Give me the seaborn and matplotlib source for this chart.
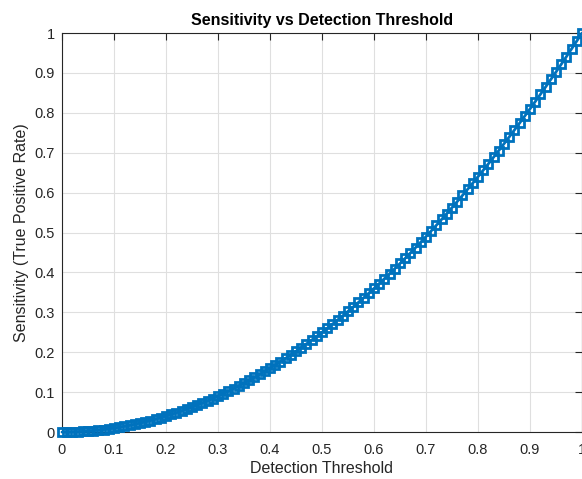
import matplotlib
matplotlib.use("Agg")
import matplotlib.pyplot as plt
import seaborn as sns
import pandas as pd
from matplotlib.ticker import FormatStrFormatter, MultipleLocator

# Detection threshold sweep (0.01 spacing)
thresholds = [
    0.00, 0.01, 0.02, 0.03, 0.04, 0.05, 0.06, 0.07, 0.08, 0.09,
    0.10, 0.11, 0.12, 0.13, 0.14, 0.15, 0.16, 0.17, 0.18, 0.19,
    0.20, 0.21, 0.22, 0.23, 0.24, 0.25, 0.26, 0.27, 0.28, 0.29,
    0.30, 0.31, 0.32, 0.33, 0.34, 0.35, 0.36, 0.37, 0.38, 0.39,
    0.40, 0.41, 0.42, 0.43, 0.44, 0.45, 0.46, 0.47, 0.48, 0.49,
    0.50, 0.51, 0.52, 0.53, 0.54, 0.55, 0.56, 0.57, 0.58, 0.59,
    0.60, 0.61, 0.62, 0.63, 0.64, 0.65, 0.66, 0.67, 0.68, 0.69,
    0.70, 0.71, 0.72, 0.73, 0.74, 0.75, 0.76, 0.77, 0.78, 0.79,
    0.80, 0.81, 0.82, 0.83, 0.84, 0.85, 0.86, 0.87, 0.88, 0.89,
    0.90, 0.91, 0.92, 0.93, 0.94, 0.95, 0.96, 0.97, 0.98, 0.99,
    1.00,
]
sensitivity = [
    0.0000, 0.0001, 0.0004, 0.0009, 0.0016, 0.0025, 0.0036, 0.0049, 0.0064, 0.0081,
    0.0100, 0.0121, 0.0144, 0.0169, 0.0196, 0.0225, 0.0256, 0.0289, 0.0324, 0.0361,
    0.0400, 0.0441, 0.0484, 0.0529, 0.0576, 0.0625, 0.0676, 0.0729, 0.0784, 0.0841,
    0.0900, 0.0961, 0.1024, 0.1089, 0.1156, 0.1225, 0.1296, 0.1369, 0.1444, 0.1521,
    0.1600, 0.1681, 0.1764, 0.1849, 0.1936, 0.2025, 0.2116, 0.2209, 0.2304, 0.2401,
    0.2500, 0.2601, 0.2704, 0.2809, 0.2916, 0.3025, 0.3136, 0.3249, 0.3364, 0.3481,
    0.3600, 0.3721, 0.3844, 0.3969, 0.4096, 0.4225, 0.4356, 0.4489, 0.4624, 0.4761,
    0.4900, 0.5041, 0.5184, 0.5329, 0.5476, 0.5625, 0.5776, 0.5929, 0.6084, 0.6241,
    0.6400, 0.6561, 0.6724, 0.6889, 0.7056, 0.7225, 0.7396, 0.7569, 0.7744, 0.7921,
    0.8100, 0.8281, 0.8464, 0.8649, 0.8836, 0.9025, 0.9216, 0.9409, 0.9604, 0.9801,
    1.0000,
]

df = pd.DataFrame({"threshold": thresholds, "sensitivity": sensitivity})

sns.set_style("whitegrid")
plt.rcParams["font.family"] = ["Liberation Sans", "DejaVu Sans"]

fig = plt.figure(figsize=(5.82, 4.79), dpi=100)
ax = fig.add_axes([0.1065, 0.098, 0.8935, 0.833])

sns.lineplot(data=df, x="threshold", y="sensitivity", ax=ax,
             color="#0072BD", linewidth=2, marker="s", markersize=5.2,
             markerfacecolor="none", markeredgecolor="#0072BD",
             markeredgewidth=2, clip_on=False, zorder=3)

ax.set_xlim(0, 1)
ax.set_ylim(0, 1)
ax.xaxis.set_major_locator(MultipleLocator(0.1))
ax.yaxis.set_major_locator(MultipleLocator(0.1))
ax.xaxis.set_major_formatter(FormatStrFormatter("%g"))
ax.yaxis.set_major_formatter(FormatStrFormatter("%g"))

ax.grid(True, color="#dfdfdf", linewidth=0.8)
for side in ax.spines.values():
    side.set_color("#262626")
    side.set_linewidth(0.8)
ax.tick_params(direction="in", length=5, width=0.8, colors="#262626",
               labelsize=10.5, top=True, right=True)
ax.tick_params(axis="x", pad=8)
ax.tick_params(axis="y", pad=5)
for lbl in ax.get_xticklabels() + ax.get_yticklabels():
    lbl.set_color("#262626")

ax.set_title("Sensitivity vs Detection Threshold", fontsize=11.5,
             fontweight="bold", color="black", pad=6)
ax.set_xlabel("Detection Threshold", fontsize=11.5, color="#262626", labelpad=3)
ax.set_ylabel("Sensitivity (True Positive Rate)", fontsize=11.5,
              color="#262626", labelpad=4)

fig.savefig("out.png", dpi=100)
